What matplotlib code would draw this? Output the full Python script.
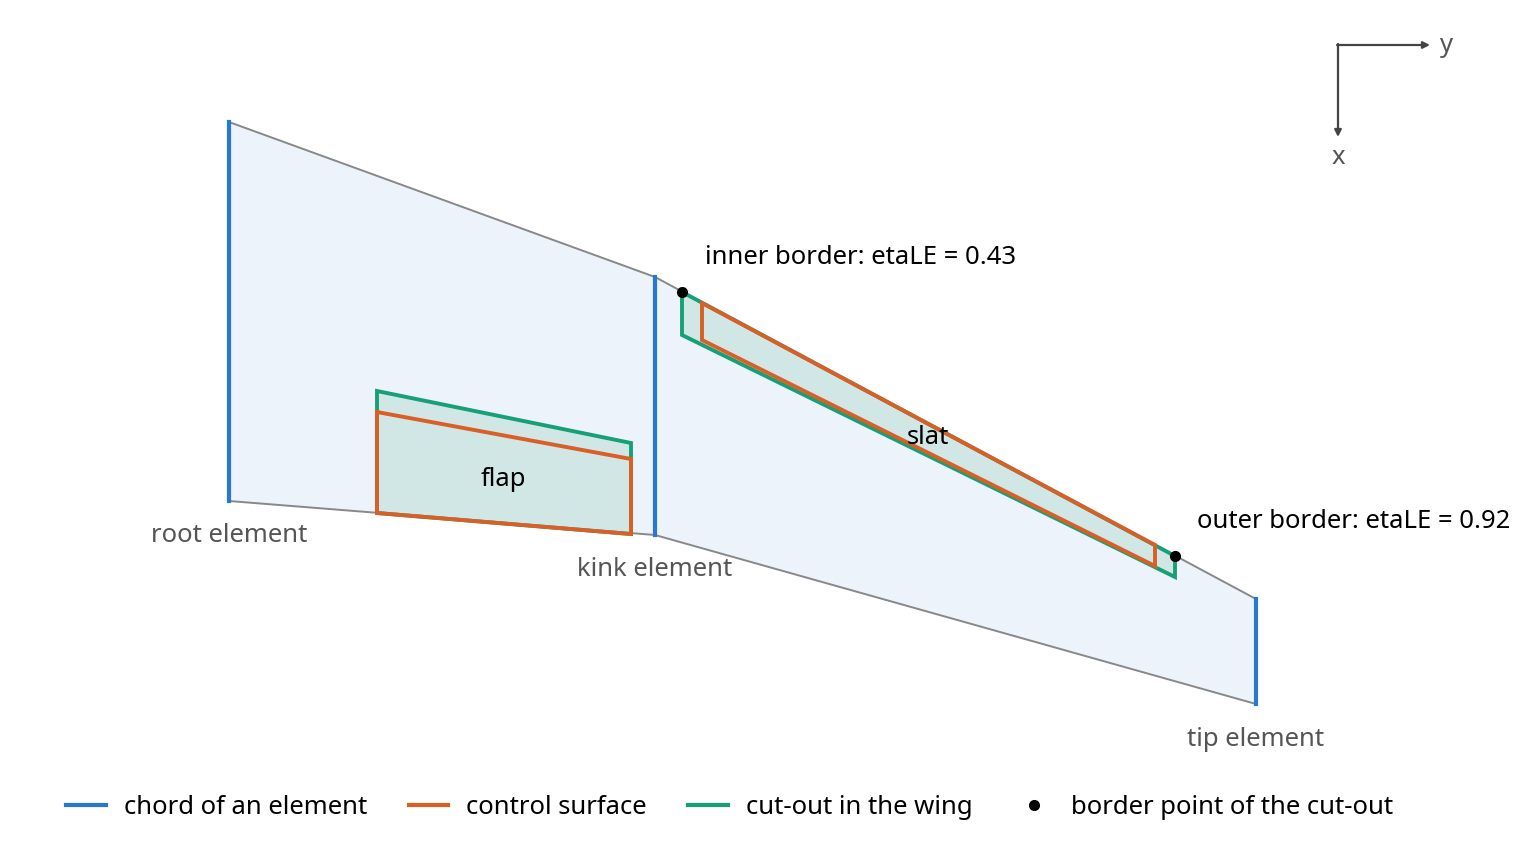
import matplotlib
matplotlib.use("Agg")
import matplotlib.pyplot as plt
from matplotlib.lines import Line2D

plt.rcParams['font.family'] = ['Noto Sans', 'DejaVu Sans']

# geometry (pixel-like units, y down)
le_x = [229, 655, 1256]; le_y = [122, 277, 599]
te_x = [229, 655, 1256]; te_y = [501, 535, 704]
chord_names = ["root element", "kink element", "tip element"]
flap_cut_x = [377, 631, 631, 377]; flap_cut_y = [391, 443, 534, 513]
flap_cs_x = [377, 631, 631, 377]; flap_cs_y = [412, 459, 534, 513]
slat_cut_x = [682, 1175, 1175, 682]; slat_cut_y = [292, 556, 577, 335]
slat_cs_x = [702, 1155, 1155, 702]; slat_cs_y = [303, 545, 566, 340]
border_x = [682, 1175]; border_y = [292, 556]
border_labels = ["inner border: etaLE = 0.43", "outer border: etaLE = 0.92"]

BLUE = "#2878d0"; ORANGE = "#d95f27"; GREEN = "#17a075"; GREY = "#888888"; TXT = "#555555"
FS = 18.5

fig = plt.figure(figsize=(15.3, 8.46), dpi=100)
ax = fig.add_axes([0, 0, 1, 1])
ax.set_xlim(0, 1530); ax.set_ylim(846, 0); ax.axis('off')

ax.fill(le_x + te_x[::-1], le_y + te_y[::-1], color="#ecf3fb", lw=0, zorder=1)
ax.plot(le_x, le_y, color=GREY, lw=1.4, zorder=2)
ax.plot(te_x, te_y, color=GREY, lw=1.4, zorder=2)
for x, y0, y1, n in zip(le_x, le_y, te_y, chord_names):
    ax.plot([x, x], [y0, y1], color=BLUE, lw=3, zorder=3)
    ax.text(x, y1 + 35, n, ha='center', va='center', fontsize=FS, color=TXT)

for cx, cy, sx, sy in [(flap_cut_x, flap_cut_y, flap_cs_x, flap_cs_y),
                       (slat_cut_x, slat_cut_y, slat_cs_x, slat_cs_y)]:
    ax.fill(cx, cy, color="#d1e7e6", lw=0, zorder=3)
    ax.fill(cx, cy, fill=False, edgecolor=GREEN, lw=2.8, zorder=4)
    ax.fill(sx, sy, fill=False, edgecolor=ORANGE, lw=2.8, zorder=4)

ax.text(503, 480, "flap", ha='center', va='center', fontsize=FS, zorder=6)
ax.text(928, 438, "slat", ha='center', va='center', fontsize=FS, zorder=6)

ax.plot(border_x, border_y, 'o', color='black', ms=7, ls='none', zorder=5)
ax.text(705, 258, border_labels[0], ha='left', va='center', fontsize=FS)
ax.text(1197, 521, border_labels[1], ha='left', va='center', fontsize=FS)

ax.annotate("", xy=(1430, 45), xytext=(1337, 45),
            arrowprops=dict(arrowstyle='-|>', color='#444444', lw=1.6, mutation_scale=10, shrinkA=0, shrinkB=0))
ax.annotate("", xy=(1338, 137), xytext=(1338, 44),
            arrowprops=dict(arrowstyle='-|>', color='#444444', lw=1.6, mutation_scale=10, shrinkA=0, shrinkB=0))
ax.text(1446, 45, "y", ha='center', va='center', fontsize=FS, color=TXT)
ax.text(1338, 157, "x", ha='center', va='center', fontsize=FS, color=TXT)

handles = [Line2D([], [], color=BLUE, lw=3),
           Line2D([], [], color=ORANGE, lw=3),
           Line2D([], [], color=GREEN, lw=3),
           Line2D([], [], marker='o', color='black', ls='none', ms=7)]
labels = ["chord of an element", "control surface", "cut-out in the wing", "border point of the cut-out"]
fig.legend(handles, labels, loc='center', bbox_to_anchor=(730/1530, 1 - 807/846), ncol=4,
           frameon=False, fontsize=FS, handlelength=1.55, columnspacing=1.6, handletextpad=0.7)

fig.savefig("out.png", dpi=100)
